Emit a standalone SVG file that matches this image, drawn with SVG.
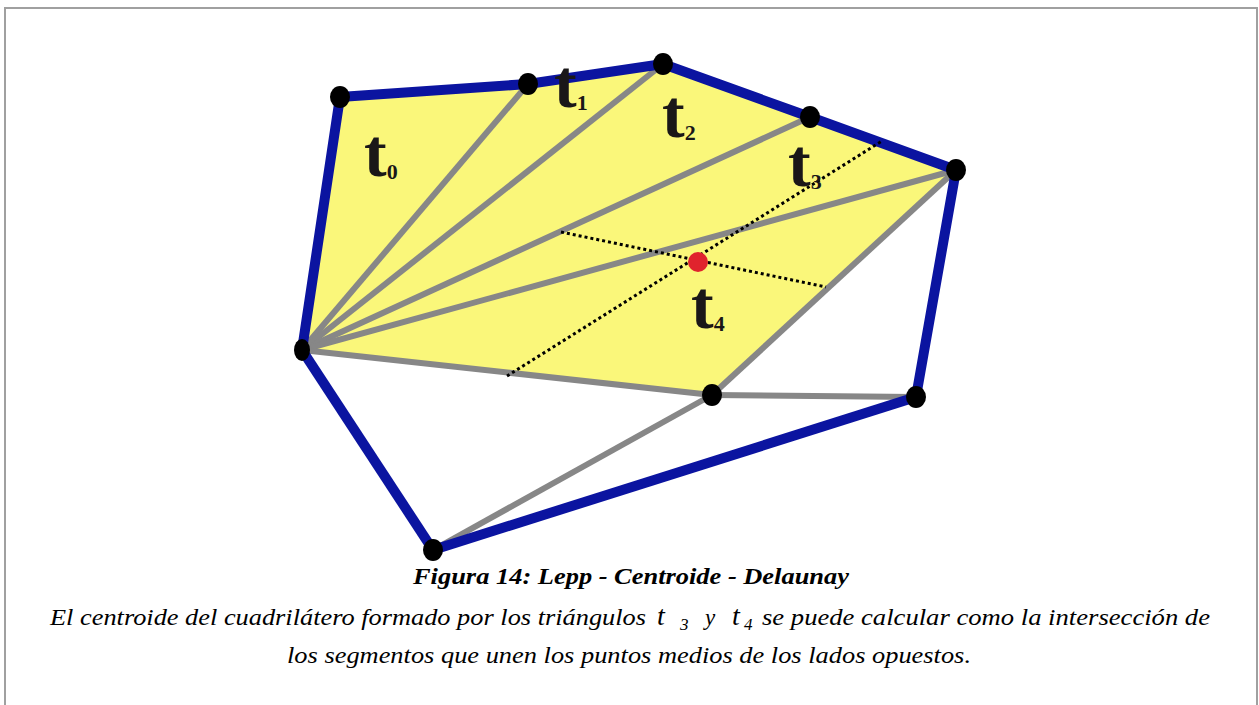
<svg xmlns="http://www.w3.org/2000/svg" width="1259" height="705" viewBox="0 0 1259 705">
<style>
.blue{stroke:#0b14a0;stroke-width:10;fill:none;stroke-linejoin:round}
.gray{stroke:#878787;stroke-width:6;fill:none}
.dot{stroke:#000;stroke-width:3;stroke-dasharray:3 3;fill:none}
.v{fill:#000}
.lbl{font-weight:bold;fill:#1a1718}
.big{font-size:68px}
.sub{font-size:22px}
.cap{font-style:italic;fill:#000}
</style>
<rect x="5" y="8" width="1252" height="700" fill="#fff" stroke="#a0a0a0" stroke-width="2"/>
<g id="fill">
<polygon points="340,97 528,84 663,64 810,117 956,170 712,395 302,350" fill="#faf77a"/>
</g>
<g id="connectors">
<line class="gray" x1="302" y1="350" x2="528" y2="84"/>
<line class="gray" x1="302" y1="350" x2="663" y2="64"/>
<line class="gray" x1="302" y1="350" x2="810" y2="117"/>
<line class="gray" x1="302" y1="350" x2="956" y2="170"/>
<line class="gray" x1="302" y1="350" x2="712" y2="395"/>
<line class="gray" x1="712" y1="395" x2="956" y2="170"/>
<line class="gray" x1="712" y1="395" x2="916" y2="397"/>
<line class="gray" x1="712" y1="395" x2="433" y2="550"/>
<polyline class="blue" points="302,350 340,97 528,84 663,64 810,117 956,170 916,397"/>
<line class="blue" x1="302" y1="350" x2="433" y2="550"/>
<line class="blue" x1="433" y1="550" x2="916" y2="397" stroke-width="12"/>
<line class="dot" x1="561" y1="232" x2="826" y2="287"/>
<line class="dot" x1="507" y1="376" x2="882" y2="141"/>
</g>
<g id="vertices">
<ellipse class="v" cx="340" cy="97" rx="10" ry="11"/>
<ellipse class="v" cx="528" cy="84" rx="10" ry="11"/>
<ellipse class="v" cx="663" cy="64" rx="10" ry="11"/>
<ellipse class="v" cx="810" cy="117" rx="10" ry="11"/>
<ellipse class="v" cx="956" cy="170" rx="10" ry="11"/>
<ellipse class="v" cx="916" cy="397" rx="10" ry="11"/>
<ellipse class="v" cx="712" cy="395" rx="10" ry="11"/>
<ellipse class="v" cx="433" cy="550" rx="10" ry="11"/>
<ellipse class="v" cx="302" cy="350" rx="8" ry="11"/>
<circle cx="698" cy="262" r="10" fill="#e0232d"/>
</g>
<g id="labels" font-family="Liberation Serif, Times New Roman, Times, Nimbus Roman, FreeSerif, serif">
<text class="lbl" x="364" y="176"><tspan class="big">t</tspan><tspan class="sub" dy="3">0</tspan></text>
<text class="lbl" x="554" y="107"><tspan class="big">t</tspan><tspan class="sub" dy="3">1</tspan></text>
<text class="lbl" x="662" y="137"><tspan class="big">t</tspan><tspan class="sub" dy="3">2</tspan></text>
<text class="lbl" x="788" y="186"><tspan class="big">t</tspan><tspan class="sub" dy="3">3</tspan></text>
<text class="lbl" x="691" y="328"><tspan class="big">t</tspan><tspan class="sub" dy="3">4</tspan></text>
</g>
<g id="caption" font-family="Liberation Serif, Times New Roman, Times, Nimbus Roman, FreeSerif, serif">
<text class="cap" x="413" y="584" font-size="24" font-weight="bold" textLength="436" lengthAdjust="spacingAndGlyphs">Figura 14: Lepp - Centroide - Delaunay</text>
<text class="cap" x="50" y="625" font-size="23" textLength="596" lengthAdjust="spacingAndGlyphs">El centroide del cuadrilátero formado por los triángulos</text>
<text class="cap" x="657" y="625" font-size="28">t</text>
<text class="cap" x="680" y="630" font-size="17">3</text>
<text class="cap" x="705" y="625" font-size="23">y</text>
<text class="cap" x="732" y="625" font-size="28">t</text>
<text class="cap" x="744" y="630" font-size="17">4</text>
<text class="cap" x="762" y="625" font-size="23" textLength="448" lengthAdjust="spacingAndGlyphs">se puede calcular como la intersección de</text>
<text class="cap" x="287" y="663" font-size="23" textLength="684" lengthAdjust="spacingAndGlyphs">los segmentos que unen los puntos medios de los lados opuestos.</text>
</g>
</svg>
